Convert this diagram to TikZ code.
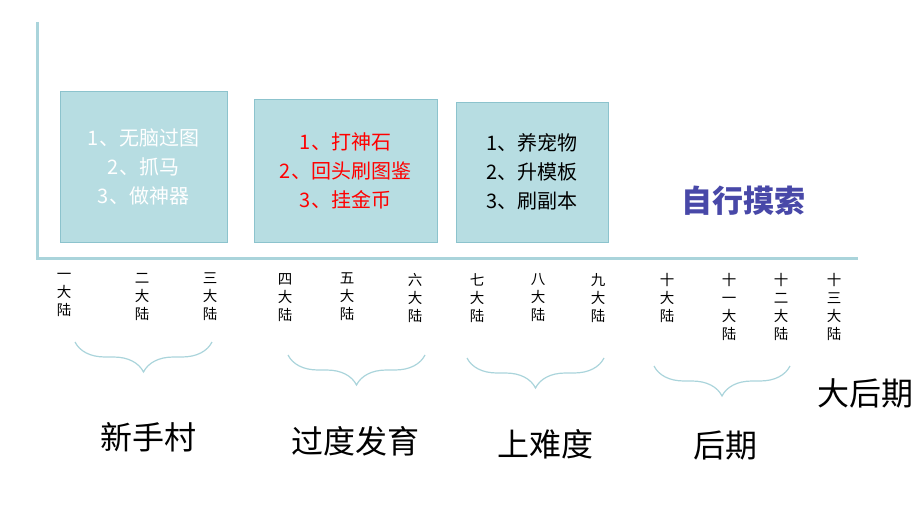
\documentclass[tikz,border=0pt]{standalone}
\usepackage{fontspec}
\setmainfont{Noto Sans CJK SC}
\usetikzlibrary{decorations.pathreplacing, positioning}
\definecolor{stagefill}{RGB}{183,221,226}
\definecolor{tealline}{RGB}{170,212,219}
\definecolor{boxline}{RGB}{140,195,205}
\definecolor{stepblue}{RGB}{72,72,168}
\tikzset{
  stagebox/.style={draw=boxline, fill=stagefill, align=center, font=\fontsize{20}{29}\selectfont, inner sep=0pt},
  land/.style={align=center, font=\fontsize{14.5}{18}\selectfont, anchor=north, inner sep=0pt},
  phase/.style={font=\fontsize{32}{36}\selectfont, text=black},
  span/.style={draw=tealline, line width=1.2pt, decorate, decoration={brace, mirror, amplitude=30pt, aspect=0.5}},
}

\begin{document}
\begin{tikzpicture}[x=1pt, y=-1pt]
\useasboundingbox (0,0) rectangle (923,505);
% axes
\draw[tealline, line width=3pt] (37,22) -- (37,258) -- (858,258);

% stage boxes
\node[stagebox, text=white, minimum width=167pt, minimum height=151pt] (novice) at (143.5,166.5) {1、无脑过图\\2、抓马\\3、做神器};
\node[stagebox, text=red, minimum width=183pt, minimum height=143pt] (grow) at (345.5,170.5) {1、打神石\\2、回头刷图鉴\\3、挂金币};
\node[stagebox, text=black, minimum width=152pt, minimum height=140pt] (hard) at (532,172) {1、养宠物\\2、升模板\\3、刷副本};
\node[font=\fontsize{31}{36}\selectfont\bfseries, text=stepblue] (explore) at (743,201) {自行摸索};

% continents
\node[land] (c1) at (64,273) {一\\大\\陆};
\node[land] (c2) at (142,273) {二\\大\\陆};
\node[land] (c3) at (210,273) {三\\大\\陆};
\node[land] (c4) at (285,273) {四\\大\\陆};
\node[land] (c5) at (347,273) {五\\大\\陆};
\node[land] (c6) at (415,273) {六\\大\\陆};
\node[land] (c7) at (477,273) {七\\大\\陆};
\node[land] (c8) at (538,273) {八\\大\\陆};
\node[land] (c9) at (598,273) {九\\大\\陆};
\node[land] (c10) at (667,273) {十\\大\\陆};
\node[land] (c11) at (729,273) {十\\一\\大\\陆};
\node[land] (c12) at (781,273) {十\\二\\大\\陆};
\node[land] (c13) at (834,273) {十\\三\\大\\陆};

% phases
\coordinate (b1l) at (75,342);  \coordinate (b1r) at (212,342);
\coordinate (b2l) at (288,355); \coordinate (b2r) at (425,355);
\coordinate (b3l) at (467,358); \coordinate (b3r) at (604,358);
\coordinate (b4l) at (654,366); \coordinate (b4r) at (790,366);
\draw[span] (b1l) -- (b1r);
\draw[span] (b2l) -- (b2r);
\draw[span] (b3l) -- (b3r);
\draw[span] (b4l) -- (b4r);

\node[phase] (p1) at (148,437) {新手村};
\node[phase] (p2) at (355,441) {过度发育};
\node[phase] (p3) at (545,444) {上难度};
\node[phase] (p4) at (725,446) {后期};
\node[phase] (p5) at (865,393) {大后期};
\end{tikzpicture}
\end{document}
